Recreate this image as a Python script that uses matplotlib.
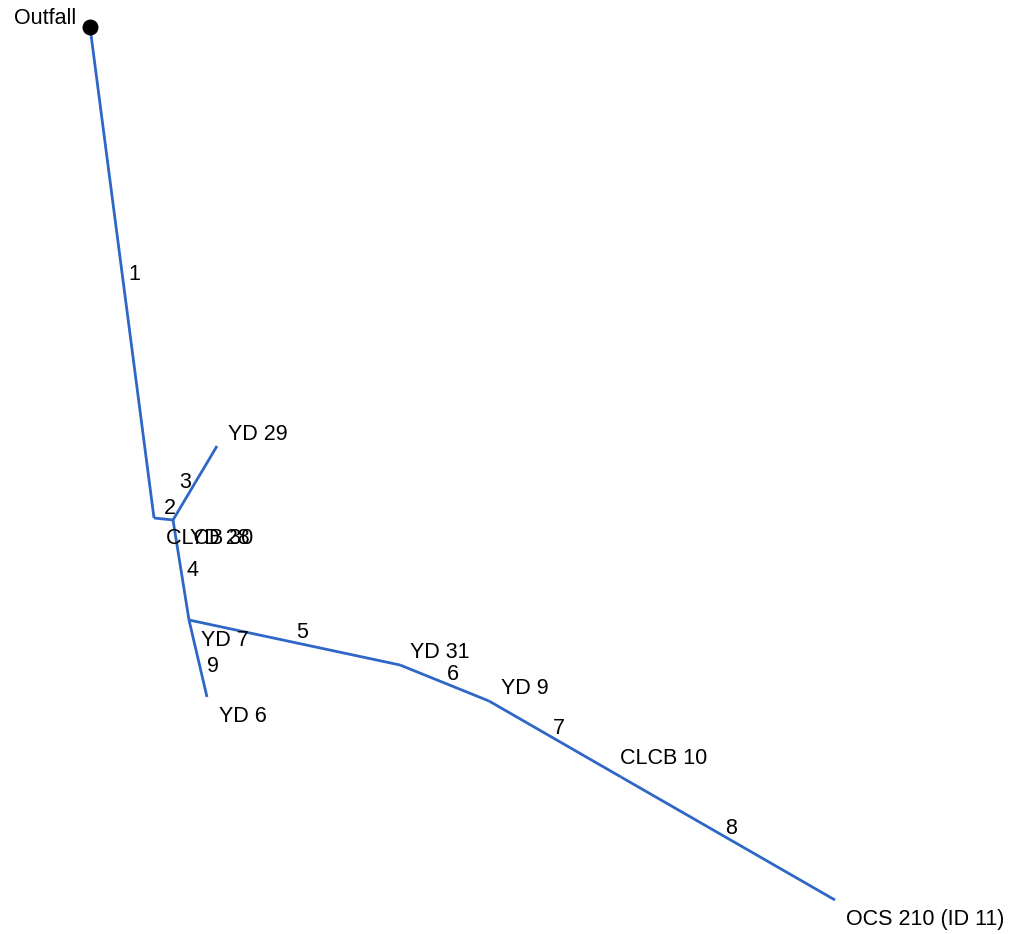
import matplotlib
matplotlib.use('Agg')
import matplotlib.pyplot as plt

plt.rcParams['font.family'] = ['Liberation Sans', 'DejaVu Sans']

W, H = 1021, 934
node_x = [90, 154, 173, 217, 189, 400, 489, 621, 835, 207]
node_y = [27, 518, 520, 446, 620, 665, 701, 777, 900, 697]
edge_from = [0, 1, 2, 2, 4, 5, 6, 7, 4]
edge_to = [1, 2, 3, 4, 5, 6, 7, 8, 9]
edge_labels = ['1', '2', '3', '4', '5', '6', '7', '8', '9']
edge_lx = [134, 170, 185, 192, 302, 453, 559, 731, 213]
edge_ly = [275, 508, 483, 571, 633, 675, 729, 829, 667]
name_labels = ['Outfall', 'YD 29', 'CLCB 30', 'YD 28', 'YD 7', 'YD 31', 'YD 9', 'CLCB 10', 'OCS 210 (ID 11)', 'YD 6']
name_lx = [45.5, 258, 210, 220, 225, 440, 525, 664, 925.5, 243]
name_ly = [19, 435, 538, 538, 640, 653, 689, 758, 919, 716]

fig = plt.figure(figsize=(W / 100, H / 100), dpi=100)
ax = fig.add_axes([0, 0, 1, 1])
ax.set_xlim(0, W)
ax.set_ylim(H, 0)
ax.axis('off')

for a, b in zip(edge_from, edge_to):
    ax.plot([node_x[a], node_x[b]], [node_y[a], node_y[b]], color='#2f67c6', lw=2.0, solid_capstyle='butt')
ax.plot(node_x[0], node_y[0], 'o', color='black', ms=11.5, mew=0, zorder=3)

for s, x, y in zip(edge_labels, edge_lx, edge_ly):
    ax.text(x, y, s, fontsize=15.5, ha='center', va='center', color='black')
for s, x, y in zip(name_labels, name_lx, name_ly):
    ax.text(x, y, s, fontsize=15.5, ha='center', va='center', color='black')

fig.savefig('out.png', dpi=100)
